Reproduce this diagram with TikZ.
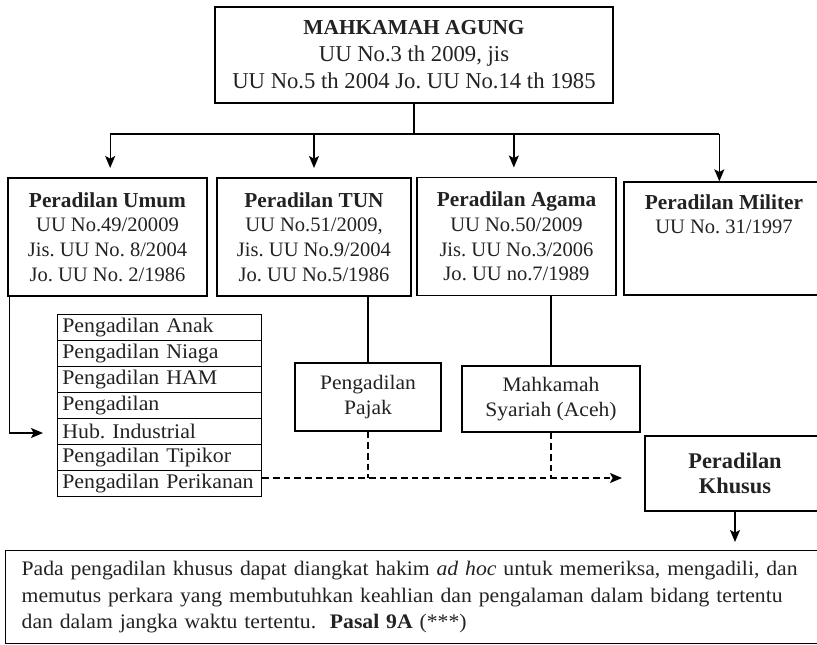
\documentclass[tikz,border=0pt]{standalone}
\usepackage{fontspec}
\setmainfont{Liberation Serif}
\newfontfamily\antiqua[FakeStretch=1.05]{Liberation Serif}
\usetikzlibrary{arrows.meta}
\frenchspacing

\definecolor{ink}{HTML}{222222}

\tikzset{
  every node/.style={draw=black, line width=1pt, align=center, text=ink},
  topbox/.style={minimum width=298.5pt, minimum height=72pt, font=\fontsize{17}{20.25}\selectfont},
  court/.style={minimum height=88.5pt, font=\fontsize{15.4}{18.4}\selectfont},
  subcourt/.style={minimum height=51pt, font=\antiqua\fontsize{15.4}{18.75}\selectfont},
  listrow/.style={minimum width=153pt, minimum height=19.5pt, text width=146pt, align=left,
                  inner xsep=3.5pt, inner ysep=0pt, node distance=19.5pt, font=\antiqua\fontsize{15.6}{17}\selectfont},
  conn/.style={line width=1pt},
  arr/.style={conn, -{Stealth[length=9pt,width=7.5pt,inset=2pt]}},
  dasharr/.style={arr, dash pattern=on 5pt off 3pt}
}

\begin{document}
\begin{tikzpicture}[x=0.75pt,y=-0.75pt]
\useasboundingbox (0,0) rectangle (817,645);

\node [topbox] (MA) at (414,55) {\fontsize{16}{20.25}\selectfont\textbf{MAHKAMAH AGUNG}\\
  UU No.3 th 2009, jis\\ UU No.5 th 2004 Jo. UU No.14 th 1985};

\node [court, minimum width=149.25pt] (Umum) at (107.5,237) {\fontsize{16}{18.4}\selectfont\textbf{Peradilan Umum}\\
  UU No.49/20009\\ Jis. UU No. 8/2004\\ Jo. UU No. 2/1986};
\node [court, minimum width=145.5pt] (TUN) at (314,237) {\fontsize{16}{18.4}\selectfont\textbf{Peradilan TUN}\\
  UU No.51/2009,\\ Jis. UU No.9/2004\\ Jo. UU No.5/1986};
\node [court, minimum width=149.25pt] (Agama) at (516.5,236.5) {\fontsize{16}{18.4}\selectfont\textbf{Peradilan Agama}\\
  UU No.50/2009\\ Jis. UU No.3/2006\\ Jo. UU no.7/1989};
\node [court, minimum width=150pt, minimum height=84.75pt] (Militer) at (724,238.5) {\fontsize{16}{18.4}\selectfont\textbf{Peradilan Militer}\\
  UU No. 31/1997\\ ~\\ ~};

\node [listrow, anchor=north west] (row1) at (57,314) {Pengadilan Anak};
\node [listrow, below of=row1] (row2) {Pengadilan Niaga};
\node [listrow, below of=row2] (row3) {Pengadilan HAM};
\node [listrow, below of=row3] (row4) {Pengadilan};
\node [listrow, below of=row4] (row5) {Hub. Industrial};
\node [listrow, below of=row5] (row6) {Pengadilan Tipikor};
\node [listrow, below of=row6] (row7) {Pengadilan Perikanan};

\node [subcourt, minimum width=109.5pt] (Pajak) at (368,397) {Pengadilan\\ Pajak};
\node [subcourt, minimum width=133.5pt, minimum height=49.5pt] (Syariah) at (551,399) {Mahkamah\\ Syariah (Aceh)};

\node [minimum width=135pt, minimum height=56.25pt, font=\fontsize{16.8}{18.75}\selectfont] (Khusus) at (735,473.5)
  {\textbf{Peradilan}\\ \textbf{Khusus}};

\node [anchor=north west, minimum height=69.75pt, text width=640pt, align=left,
       inner xsep=12pt, font=\antiqua\fontsize{15.5}{19.9}\selectfont] (Note) at (5,550)
  {Pada pengadilan khusus dapat diangkat hakim \textit{ad hoc} untuk memeriksa, mengadili, dan\\
   memutus perkara yang membutuhkan keahlian dan pengalaman dalam bidang tertentu\\
   dan dalam jangka waktu tertentu.~ \textbf{Pasal 9A} (***)};

\coordinate (bus) at (414,134);
\coordinate (hubArr) at (43,433);
\coordinate (dashEnd) at (622,478);

% dari Mahkamah Agung ke empat lingkungan peradilan
\draw [conn] (MA.south) -- (bus);
\draw [conn] ([xshift=2pt]Umum.north |- bus) -- ([xshift=-3.5pt]Militer.north |- bus);
\draw [arr] ([xshift=2pt]Umum.north |- bus) -- ([xshift=2pt,yshift=7pt]Umum.north);
\draw [arr] (TUN.north |- bus) -- ([yshift=7pt]TUN.north);
\draw [arr] ([xshift=-2pt]Agama.north |- bus) -- ([xshift=-2pt,yshift=7pt]Agama.north);
\draw [arr] ([xshift=-3.5pt]Militer.north |- bus) -- ([xshift=-3.5pt]Militer.north);

% pengadilan khusus
\draw [arr] ([xshift=1.5pt]Umum.south west) |- (hubArr);
\draw [conn] (Pajak.north |- TUN.south) -- (Pajak.north);
\draw [conn] (Syariah.north |- Agama.south) -- (Syariah.north);
\draw [dasharr] (row7.east |- dashEnd) -- (dashEnd);
\draw [conn, dash pattern=on 5pt off 3pt] (Pajak.south) -- (Pajak.south |- dashEnd);
\draw [conn, dash pattern=on 5pt off 3pt] (Syariah.south) -- (Syariah.south |- dashEnd);
\draw [arr, shorten >=6pt] (Khusus.south) -- (Khusus.south |- Note.north);

\end{tikzpicture}
\end{document}
